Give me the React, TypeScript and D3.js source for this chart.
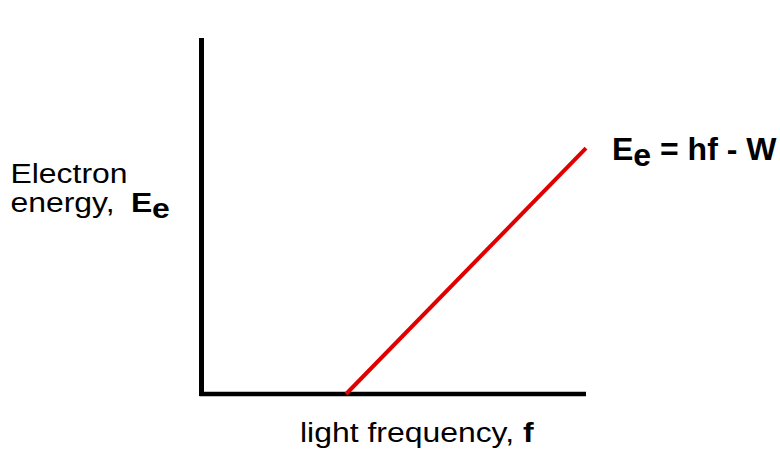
import React from "react";
import * as d3 from "d3";

const xDomain = [0, 10];
const yDomain = [0, 10];
const lineX = [3.76, 10];
const lineY = [0, 6.24];

export default function App() {
  const W = 780, H = 451;
  const x = d3.scaleLinear().domain(xDomain).range([201.5, 586]);
  const y = d3.scaleLinear().domain(yDomain).range([394, 0]);
  const pts: [number, number][] = lineX.map((v, i) => [x(v), y(lineY[i])]);
  const line = d3.line();
  const font = "'Liberation Sans', Arial, sans-serif";
  const sx = 1.14;
  return (
    <svg width={W} height={H} style={{ position: "absolute", left: 0, top: 0 }} fontFamily={font}>
      <rect width={W} height={H} fill="#fff" />
      <line x1={x(0)} x2={x(0)} y1={38} y2={y(0) + 2} stroke="#000" strokeWidth={5} />
      <line x1={x(0) - 2} x2={x(10)} y1={y(0)} y2={y(0)} stroke="#000" strokeWidth={4.5} />
      <path d={line(pts) || ""} stroke="#e00000" strokeWidth={4} fill="none" />
      <g fontSize={28}>
        <text transform={`translate(10.5,183) scale(${sx},1)`}>Electron</text>
        <text transform={`translate(10.5,212) scale(${sx},1)`}>energy,</text>
        <text transform={`translate(131,212) scale(${sx},1)`} fontWeight="bold">E</text>
        <text transform={`translate(152,218) scale(${sx},1)`} fontWeight="bold">e</text>
        <text transform={`translate(300,442) scale(${sx},1)`}>light frequency, <tspan fontWeight="bold">f</tspan></text>
      </g>
      <text x={612} y={160} fontSize={32} fontWeight="bold">E<tspan dy={6}>e</tspan><tspan dy={-6}> = hf  - W</tspan></text>
    </svg>
  );
}
